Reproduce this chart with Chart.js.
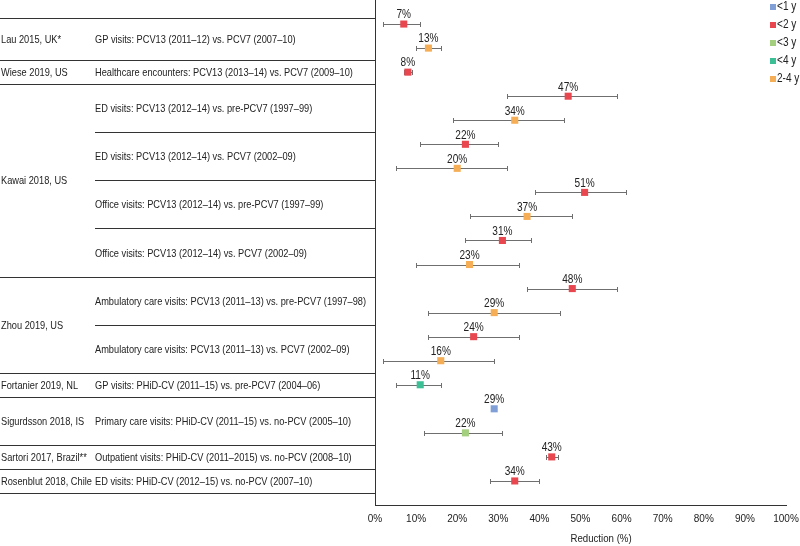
<!DOCTYPE html>
<html lang="en">
<head>
<meta charset="UTF-8">
<title>Reduction in visits after PCV13 / PHiD-CV</title>
<script src="https://cdn.jsdelivr.net/npm/chart.js@4/dist/chart.umd.min.js"></script>
<style>
  body { margin: 0; background: #fff; }
</style>
</head>
<body>
<canvas id="chart" width="800" height="546"></canvas>
<script>
// one entry per row, top to bottom
const estimates = [7, 13, 8, 47, 34, 22, 20, 51, 37, 31, 23, 48, 29, 24, 16, 11, 29, 22, 43, 34];
const lowerCI = [2, 10, 7, 32, 19, 11, 5, 39, 23, 22, 10, 37, 13, 13, 2, 5, null, 12, 41.5, 28];
const upperCI = [11, 16, 9, 59, 46, 30, 32, 61, 48, 38, 35, 59, 45, 35, 29, 16, null, 31, 44.5, 40];
const rowAgeGroup = ['<2 y', '2-4 y', '<2 y', '<2 y', '2-4 y', '<2 y', '2-4 y', '<2 y', '2-4 y', '<2 y',
    '2-4 y', '<2 y', '2-4 y', '<2 y', '2-4 y', '<4 y', '<1 y', '<3 y', '<2 y', '<2 y'];

const ageGroups = ['<1 y', '<2 y', '<3 y', '<4 y', '2-4 y'];
const groupColors = ['#7f9fd6', '#e8474f', '#a3cf7e', '#3dbf96', '#f5ae55'];

const studies = ['Lau 2015, UK*', 'Wiese 2019, US', 'Kawai 2018, US', 'Zhou 2019, US',
    'Fortanier 2019, NL', 'Sigurdsson 2018, IS', 'Sartori 2017, Brazil**', 'Rosenblut 2018, Chile'];
const studyFirstRow = [0, 2, 3, 11, 15, 16, 18, 19];
const studyLastRow = [1, 2, 10, 14, 15, 17, 18, 19];

const comparisons = [
    'GP visits: PCV13 (2011\u201312) vs. PCV7 (2007\u201310)',
    'Healthcare encounters: PCV13 (2013\u201314) vs. PCV7 (2009\u201310)',
    'ED visits: PCV13 (2012\u201314) vs. pre-PCV7 (1997\u201399)',
    'ED visits: PCV13 (2012\u201314) vs. PCV7 (2002\u201309)',
    'Office visits: PCV13 (2012\u201314) vs. pre-PCV7 (1997\u201399)',
    'Office visits: PCV13 (2012\u201314) vs. PCV7 (2002\u201309)',
    'Ambulatory care visits: PCV13 (2011\u201313) vs. pre-PCV7 (1997\u201398)',
    'Ambulatory care visits: PCV13 (2011\u201313) vs. PCV7 (2002\u201309)',
    'GP visits: PHiD-CV (2011\u201315) vs. pre-PCV7 (2004\u201306)',
    'Primary care visits: PHiD-CV (2011\u201315) vs. no-PCV (2005\u201310)',
    'Outpatient visits: PHiD-CV (2011\u20132015) vs. no-PCV (2008\u201310)',
    'ED visits: PHiD-CV (2012\u201315) vs. no-PCV (2007\u201310)'
];
const comparisonFirstRow = [0, 2, 3, 5, 7, 9, 11, 13, 15, 16, 18, 19];
const comparisonLastRow = [1, 2, 4, 6, 8, 10, 12, 14, 15, 17, 18, 19];

const xTicks = [0, 10, 20, 30, 40, 50, 60, 70, 80, 90, 100];
const xTitle = 'Reduction (%)';

const FONT = '"Liberation Sans", Arial, sans-serif';
const TEXT = '#222';
const SQUEEZE = 0.84; // the original uses a narrow face

// top edge of a block, in row units (first block starts a bit below the top)
const blockTop = first => first === 0 ? -0.25 : first - 0.5;

function narrowText(ctx, text, x, y) {
    ctx.save();
    ctx.translate(x, y);
    ctx.scale(SQUEEZE, 1);
    ctx.fillText(text, 0, 0);
    ctx.restore();
}

const datasets = ageGroups.map((g, gi) => ({
    label: g,
    data: estimates.map((v, i) => ({ x: v, y: i })).filter((p, i) => rowAgeGroup[i] === g),
    backgroundColor: groupColors[gi],
    borderWidth: 0,
    pointStyle: 'rect',
    pointRadius: 5,
    showLine: false
}));

const errorBars = {
    id: 'errorBars',
    beforeDatasetsDraw(chart) {
        const { ctx, scales: { x, y } } = chart;
        ctx.save();
        ctx.strokeStyle = '#6f6f6f';
        ctx.lineWidth = 1;
        estimates.forEach((v, i) => {
            if (lowerCI[i] == null) return;
            const yy = Math.round(y.getPixelForValue(i)) + 0.5;
            const x1 = Math.round(x.getPixelForValue(lowerCI[i])) + 0.5;
            const x2 = Math.round(x.getPixelForValue(upperCI[i])) + 0.5;
            ctx.beginPath();
            ctx.moveTo(x1, yy); ctx.lineTo(x2, yy);
            ctx.moveTo(x1, yy - 2.5); ctx.lineTo(x1, yy + 2.5);
            ctx.moveTo(x2, yy - 2.5); ctx.lineTo(x2, yy + 2.5);
            ctx.stroke();
        });
        ctx.restore();
    }
};

const valueLabels = {
    id: 'valueLabels',
    afterDatasetsDraw(chart) {
        const { ctx, scales: { x, y } } = chart;
        ctx.save();
        ctx.font = '12px ' + FONT;
        ctx.fillStyle = TEXT;
        ctx.textAlign = 'center';
        ctx.textBaseline = 'middle';
        estimates.forEach((v, i) => {
            narrowText(ctx, v + '%', x.getPixelForValue(v), y.getPixelForValue(i) - 9);
        });
        ctx.restore();
    }
};

const rowLabels = {
    id: 'rowLabels',
    afterDraw(chart) {
        const { ctx, chartArea, scales: { x, y } } = chart;
        const descX = 95;
        const right = chartArea.left;
        ctx.save();
        ctx.font = '11px ' + FONT;
        ctx.fillStyle = TEXT;
        ctx.textAlign = 'left';
        ctx.textBaseline = 'middle';
        ctx.strokeStyle = '#333';
        ctx.lineWidth = 1;

        // top rule
        let yy = Math.round(y.getPixelForValue(-0.25)) + 0.5;
        ctx.beginPath(); ctx.moveTo(0, yy); ctx.lineTo(right, yy); ctx.stroke();

        studies.forEach((s, i) => {
            const mid = (blockTop(studyFirstRow[i]) + studyLastRow[i] + 0.5) / 2;
            narrowText(ctx, s, 1, y.getPixelForValue(mid) + 1);
        });
        comparisons.forEach((c, i) => {
            const last = comparisonLastRow[i];
            const mid = (blockTop(comparisonFirstRow[i]) + last + 0.5) / 2;
            narrowText(ctx, c, descX, y.getPixelForValue(mid) + 1);
            const full = studyLastRow.includes(last);
            yy = Math.round(y.getPixelForValue(last + 0.5)) + 0.5;
            ctx.beginPath();
            ctx.moveTo(full ? 0 : descX, yy);
            ctx.lineTo(right, yy);
            ctx.stroke();
        });

        // axis title sits a little right of centre in the original
        ctx.font = '11.5px ' + FONT;
        ctx.textAlign = 'center';
        narrowText(ctx, xTitle, x.getPixelForValue(55), 539);
        ctx.restore();
    }
};

const groupLegend = {
    id: 'groupLegend',
    afterDraw(chart) {
        const { ctx } = chart;
        ctx.save();
        ctx.font = '12px ' + FONT;
        ctx.textAlign = 'left';
        ctx.textBaseline = 'middle';
        ageGroups.forEach((g, i) => {
            const cy = 7 + i * 18;
            ctx.fillStyle = groupColors[i];
            ctx.fillRect(770, cy - 3, 6, 6);
            ctx.fillStyle = TEXT;
            narrowText(ctx, g, 777, cy);
        });
        ctx.restore();
    }
};

new Chart(document.getElementById('chart'), {
    type: 'scatter',
    data: { datasets },
    options: {
        responsive: false,
        animation: false,
        layout: { autoPadding: false, padding: { top: 0, right: 14, bottom: 0, left: 0 } },
        plugins: {
            legend: { display: false },
            tooltip: { enabled: false }
        },
        scales: {
            x: {
                type: 'linear',
                min: 0,
                max: 100,
                afterBuildTicks: scale => { scale.ticks = xTicks.map(v => ({ value: v })); },
                afterFit: scale => {
                    scale.height = 41;
                    scale.paddingLeft = 0;
                    scale.paddingRight = 0;
                },
                grid: { display: false, drawTicks: false },
                border: { display: true, color: '#333', width: 1 },
                ticks: {
                    padding: 8,
                    color: TEXT,
                    font: { family: FONT, size: 10 },
                    maxRotation: 0,
                    callback: v => v + '%'
                },
                title: { display: false }
            },
            y: {
                type: 'linear',
                min: -1,
                max: 20,
                reverse: true,
                afterFit: scale => { scale.width = 375; },
                grid: { display: false, drawTicks: false },
                border: { display: true, color: '#333', width: 1 },
                ticks: { display: false }
            }
        }
    },
    plugins: [errorBars, valueLabels, rowLabels, groupLegend]
});
</script>
</body>
</html>
